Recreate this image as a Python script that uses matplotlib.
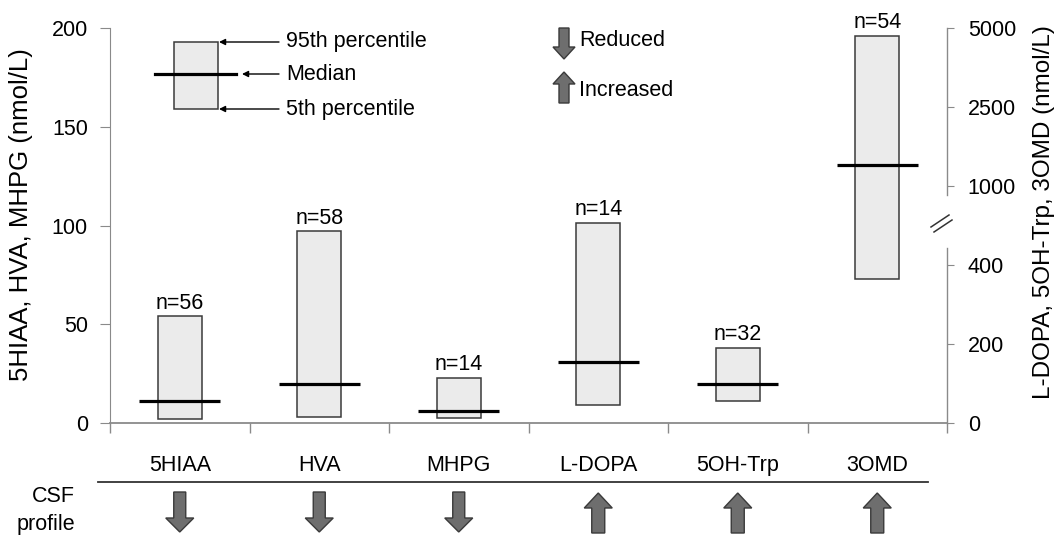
import matplotlib
matplotlib.use('Agg')
import matplotlib.pyplot as plt
from matplotlib.patches import Polygon, Rectangle
import matplotlib.transforms as mtransforms
import numpy as np

plt.rcParams['font.family'] = ['Liberation Sans', 'DejaVu Sans']

# ===== Data =====
categories = ['5HIAA', 'HVA', 'MHPG', 'L-DOPA', '5OH-Trp', '3OMD']
on_right = [False, False, False, True, True, True]
n_values = [56, 58, 14, 14, 32, 54]
p5 = [2, 3, 2.5, 45, 55, 365]
median = [11, 20, 6, 155, 100, 1400]
p95 = [54, 97, 23, 720, 190, 4750]
profile = ['down', 'down', 'down', 'up', 'up', 'up']

left_ticks = [0, 50, 100, 150, 200]
right_ticks = [0, 200, 400, 1000, 2500, 5000]
# where each right-axis tick sits on the left (nmol/L) scale -> broken axis
right_on_left = [0, 40, 80, 120, 160, 200]


def to_left(v, right):
    return np.interp(v, right_ticks, right_on_left) if right else v


W, H = 1063, 542
fig = plt.figure(figsize=(W / 100, H / 100), dpi=100)
ax = fig.add_axes([110 / W, 119 / H, 837 / W, 395 / H])
ax.set_xlim(0, 6)
ax.set_ylim(0, 200)

grey = '#8a8a8a'
FS = 15.5

x = np.arange(len(categories)) + 0.5
lo = np.array([to_left(v, r) for v, r in zip(p5, on_right)])
mid = np.array([to_left(v, r) for v, r in zip(median, on_right)])
hi = np.array([to_left(v, r) for v, r in zip(p95, on_right)])

ax.bar(x, hi - lo, bottom=lo, width=0.315, color='#ebebeb',
       edgecolor='#3a3a3a', linewidth=1.1, zorder=2)
ax.hlines(mid, x - 0.29, x + 0.29, color='black', linewidth=2.3, zorder=3)
for xi, top, n in zip(x, hi, n_values):
    ax.annotate(f'n={n}', (xi, top), xytext=(0, 2), textcoords='offset points',
                ha='center', va='bottom', fontsize=FS)

# left axis
for s in ['top', 'right']:
    ax.spines[s].set_visible(False)
ax.spines['left'].set_color(grey)
ax.spines['bottom'].set_color(grey)
ax.spines['bottom'].set_linewidth(1.3)
ax.set_yticks(left_ticks)
ax.tick_params(axis='y', length=7, color=grey, labelsize=FS, pad=9)
ax.set_ylabel('5HIAA, HVA, MHPG (nmol/L)', fontsize=18.5)
ax.yaxis.set_label_coords(-0.092, 0.527)

# category axis: boundary ticks, labels at centres
ax.set_xticks(x, categories)
ax.tick_params(axis='x', which='major', length=0, labelsize=FS, pad=23)
ax.set_xticks(np.arange(len(categories) + 1), minor=True)
ax.tick_params(axis='x', which='minor', length=7, color=grey, width=1)

# right axis (broken)
ax2 = ax.twinx()
ax2.set_ylim(0, 200)
ax2.set_yticks(right_on_left, [str(t) for t in right_ticks])
for s in ax2.spines.values():
    s.set_visible(False)
ax2.tick_params(axis='y', length=5, color=grey, labelsize=FS, pad=10)
ax2.set_ylabel('L-DOPA, 5OH-Trp, 3OMD (nmol/L)', fontsize=17.5, rotation=90)
ax2.yaxis.set_label_coords(1.103, 0.534)
tr = mtransforms.blended_transform_factory(ax2.transAxes, ax2.transData)
ax2.plot([1, 1], [0, 88.5], transform=tr, color=grey, lw=1, clip_on=False)
ax2.plot([1, 1], [115.5, 200], transform=tr, color=grey, lw=1, clip_on=False)

# ===== Overlay in pixel coordinates =====
ov = fig.add_axes([0, 0, 1, 1])
ov.set_xlim(0, W)
ov.set_ylim(H, 0)
ov.axis('off')
ov.patch.set_alpha(0)

# break marks on right axis
ov.plot([931, 949], [227, 215], color='#333333', lw=1.1)
ov.plot([934, 952], [232, 220], color='#333333', lw=1.1)


def block_arrow(cx, y_tail, y_tip, shaft_w, head_w, head_len):
    d = np.sign(y_tip - y_tail)
    neck = y_tip - d * head_len
    pts = [(cx - shaft_w / 2, y_tail), (cx + shaft_w / 2, y_tail),
           (cx + shaft_w / 2, neck), (cx + head_w / 2, neck), (cx, y_tip),
           (cx - head_w / 2, neck), (cx - shaft_w / 2, neck)]
    ov.add_patch(Polygon(pts, closed=True, facecolor='#6e6e6e',
                         edgecolor='#3a3a3a', linewidth=1, joinstyle='miter'))


# percentile key
ov.add_patch(Rectangle((174, 42), 44, 67, facecolor='#ebebeb',
                       edgecolor='#3a3a3a', linewidth=1.1))
ov.plot([155, 236], [74, 74], color='black', lw=2.3)
for y_, x_tip, lab in [(42, 219, '95th percentile'), (74, 242, 'Median'),
                       (109, 219, '5th percentile')]:
    ov.annotate('', xy=(x_tip, y_), xytext=(279, y_),
                arrowprops=dict(arrowstyle='-|>', color='black', lw=1,
                                mutation_scale=9, shrinkA=0, shrinkB=0))
    ov.text(286, y_, lab, fontsize=FS, va='center', ha='left')

# direction key
block_arrow(564, 28, 59, 10, 22, 12)
block_arrow(564, 103, 72, 10, 22, 12)
ov.text(579, 41, 'Reduced', fontsize=FS, va='center')
ov.text(579, 91, 'Increased', fontsize=FS, va='center')

# CSF profile row
ov.plot([98, 928], [482, 482], color='#333333', lw=1.3)
ov.text(75, 502, 'CSF', fontsize=FS, ha='right', va='baseline')
ov.text(75, 530, 'profile', fontsize=FS, ha='right', va='baseline')
for xi, p in zip(x, profile):
    cx = ax.transData.transform((xi, 0))[0]
    if p == 'down':
        block_arrow(cx, 492, 532, 12, 28, 14)
    else:
        block_arrow(cx, 533, 493, 13, 28, 15)

fig.savefig('out.png', dpi=100, facecolor='white')
